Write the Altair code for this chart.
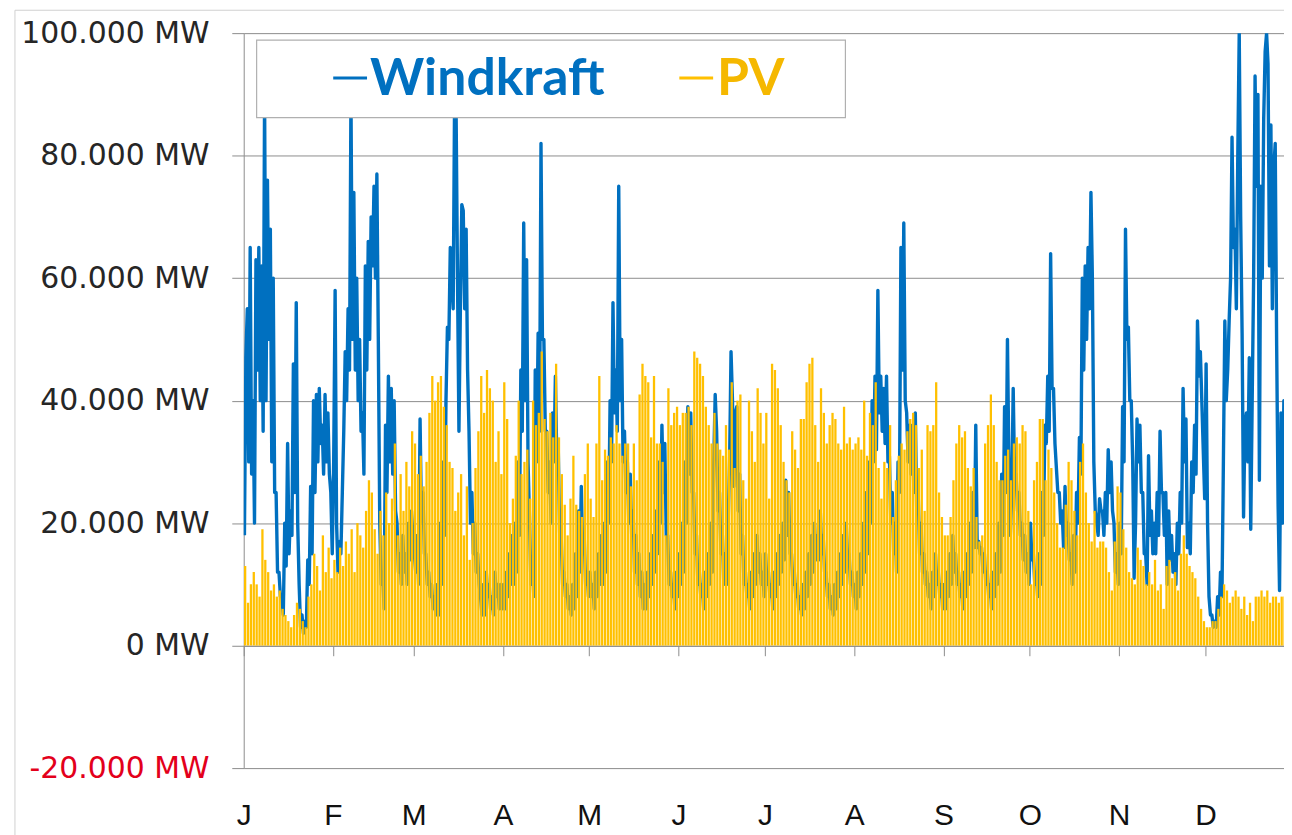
import json
import altair as alt
import pandas as pd

# ---------------- data (thousand MW) ----------------
month_letters = ["J", "F", "M", "A", "M", "J", "J", "A", "S", "O", "N", "D"]
month_start_days = [0, 31, 59, 90, 120, 151, 181, 212, 243, 273, 304, 334]
y_ticks = [-20000, 0, 20000, 40000, 60000, 80000, 100000]

# Windkraft: two readings per day (first half, second half of each day)
wind_jan = [18,47, 55,30, 65,28, 40,20, 63,45, 65,40, 62,35, 90,40, 76,50, 68,30, 60,25, 25,12, 12,8, 8,5, 20,13, 33,15,
            22,18, 46,25, 56,20, 10,3, 5,2, 4,3, 14,10, 26,15, 40,25, 41,30, 42,33, 36,28, 41,30, 38,28, 25,15]
wind_feb = [30,58, 20,12, 17,15, 25,35, 48,40, 55,45, 90,50, 74,45, 60,40, 50,35, 38,28, 62,45, 66,50, 70,62, 75,60,
            77,50, 20,10, 12,6, 36,25, 44,30, 42,28, 40,22, 20,12, 15,10, 18,12, 15,10, 20,14, 22,18]
wind_mar = [15,12, 18,10, 37,20, 25,15, 15,10, 12,8, 10,6, 8,5, 10,5, 20,10, 30,18, 40,52, 50,65, 60,55, 90,88, 60,35,
            55,72, 71,55, 68,45, 35,20, 25,15, 20,12, 15,10, 8,5, 10,5, 12,8, 10,6, 8,5, 12,8, 10,6, 10,6]
wind_apr = [10,6, 12,8, 15,10, 18,10, 20,12, 30,18, 45,35, 69,40, 63,30, 21,10, 14,8, 45,30, 51,35, 82,50, 50,35,
            35,25, 30,20, 38,30, 44,30, 32,18, 18,10, 12,8, 10,6, 8,5, 10,6, 15,8, 22,12, 26,15, 18,10, 12,8]
wind_may = [12,8, 10,6, 12,8, 15,10, 18,10, 20,12, 30,20, 40,30, 56,38, 45,35, 75,40, 50,30, 35,25, 30,20, 28,18,
            22,12, 18,10, 15,8, 12,6, 10,6, 12,8, 15,10, 18,12, 22,15, 30,20, 36,25, 33,18, 18,10, 12,8, 10,6, 12,8]
wind_jun = [15,10, 20,12, 30,20, 39,28, 38,25, 25,15, 18,10, 12,8, 10,6, 12,8, 15,10, 20,12, 30,41, 35,22, 25,15,
            18,10, 15,10, 20,30, 48,40, 26,38, 39,22, 28,15, 18,10, 12,8, 10,6, 12,8, 15,10, 18,12, 15,10, 12,8]
wind_jul = [15,10, 12,8, 10,6, 12,8, 15,10, 18,12, 20,14, 27,18, 25,15, 15,10, 12,8, 10,6, 8,5, 10,6, 12,8,
            15,10, 18,12, 20,14, 18,14, 22,15, 18,12, 12,8, 10,6, 8,5, 10,6, 12,8, 15,10, 18,12, 20,14, 15,10, 12,8]
wind_aug = [10,6, 12,8, 15,10, 20,12, 25,15, 30,20, 40,30, 44,32, 58,38, 44,35, 42,33, 44,30, 31,20, 25,15, 20,12,
            30,25, 65,45, 69,40, 38,30, 36,28, 36,25, 38,22, 25,15, 20,12, 15,10, 12,8, 10,6, 12,8, 15,10, 12,8, 10,6]
wind_sep = [10,6, 12,8, 15,10, 18,12, 15,10, 12,8, 10,6, 12,8, 15,10, 20,12, 25,16, 36,16, 17,15, 16,12, 15,10,
            12,8, 10,6, 12,8, 15,10, 20,12, 28,18, 39,25, 50,30, 18,25, 42,27, 28,22, 25,18, 20,14, 18,12, 15,10]
wind_oct = [20,14, 15,10, 12,8, 15,10, 25,18, 36,33, 44,35, 64,42, 42,33, 29,25, 25,20, 22,16, 26,18, 20,14, 15,10,
            18,12, 25,20, 34,28, 60,45, 62,50, 65,55, 74,60, 30,22, 20,18, 24,22, 22,18, 25,20, 32,25, 30,22, 20,12, 15,10]
wind_nov = [20,15, 39,30, 68,50, 52,40, 40,30, 11,20, 37,30, 36,25, 25,15, 15,10, 31,18, 22,15, 20,15, 25,18, 35,25,
            25,18, 25,10, 22,14, 18,12, 15,10, 20,15, 25,20, 42,30, 37,16, 20,15, 30,25, 36,28, 53,44, 48,40, 32,24]
wind_dec = [46,20, 8,5, 5,3, 4,3, 8,5, 12,8, 30,53, 40,45, 53,60, 83,65, 68,55, 80,100, 70,51, 21,36, 38,30,
            47,19, 40,60, 93,75, 90,27, 75,60, 86,97, 100,95, 62,85, 55,78, 82,49, 23,9, 38,20, 40,35, 45,40, 40,35, 35,30]

# PV: daily peak output
pv_jan = [13, 7, 10, 12, 10, 8, 19, 14, 12, 9, 10, 8, 9, 6, 5, 4, 3, 5, 7, 6, 4, 3, 8, 10, 15, 13, 9, 18, 12, 16, 11]
pv_feb = [14, 12, 16, 13, 17, 15, 19, 12, 20, 18, 16, 22, 27, 25, 19, 15, 22, 18, 25, 20, 24, 33, 18, 28, 22, 30, 26, 35]
pv_mar = [33, 28, 31, 26, 30, 38, 44, 40, 43, 44, 39, 36, 30, 29, 22, 25, 28, 18, 26, 14, 20, 29, 35, 44, 38, 45, 42, 40, 30, 35, 28]
pv_apr = [43, 37, 20, 24, 31, 40, 28, 30, 32, 24, 40, 36, 38, 48, 37, 35, 38, 34, 46, 34, 28, 23, 18, 24, 31, 23, 22, 21, 28, 33]
pv_may = [24, 21, 33, 44, 27, 32, 31, 34, 33, 36, 33, 31, 33, 33, 26, 33, 27, 41, 46, 44, 43, 34, 44, 33, 33, 30, 18, 42, 36, 38, 39]
pv_jun = [36, 38, 38, 39, 36, 48, 47, 46, 44, 39, 36, 33, 38, 33, 32, 31, 36, 32, 43, 29, 40, 41, 27, 24, 40, 35, 30, 42, 38, 33]
pv_jul = [38, 24, 46, 45, 42, 36, 30, 27, 25, 35, 32, 29, 37, 37, 43, 46, 47, 36, 30, 42, 38, 33, 36, 38, 37, 33, 32, 39, 33, 34, 32]
pv_aug = [33, 34, 32, 40, 31, 38, 36, 43, 29, 24, 30, 29, 36, 21, 27, 31, 33, 32, 35, 37, 38, 36, 29, 32, 22, 36, 35, 36, 43, 25, 21]
pv_sep = [18, 18, 21, 27, 33, 36, 34, 35, 29, 26, 29, 21, 17, 18, 33, 36, 41, 36, 30, 27, 27, 31, 32, 27, 33, 34, 33, 36, 35, 22]
pv_oct = [10, 27, 30, 37, 37, 27, 32, 29, 25, 20, 16, 16, 23, 30, 27, 22, 18, 30, 33, 25, 20, 17, 22, 16, 17, 17, 16, 12, 9, 17, 26]
pv_nov = [25, 19, 16, 12, 11, 10, 16, 14, 13, 10, 12, 10, 14, 9, 10, 6, 13, 14, 11, 12, 9, 15, 18, 15, 13, 12, 11, 8, 6, 4]
pv_dec = [3, 3, 4, 4, 6, 8, 10, 9, 7, 8, 9, 8, 6, 8, 5, 7, 4, 8, 8, 9, 8, 9, 7, 8, 8, 7, 8, 8, 7, 6, 6]

# ---------------- tables ----------------
wind_all = (wind_jan + wind_feb + wind_mar + wind_apr + wind_may + wind_jun +
            wind_jul + wind_aug + wind_sep + wind_oct + wind_nov + wind_dec)
pv_all = (pv_jan + pv_feb + pv_mar + pv_apr + pv_may + pv_jun +
          pv_jul + pv_aug + pv_sep + pv_oct + pv_nov + pv_dec)

wind_df = pd.DataFrame({
    "day": [i * 0.5 + 0.25 for i in range(len(wind_all))],
    "mw": [v * 1000 for v in wind_all],
})
pv_df = pd.DataFrame({
    "day": [i + 0.5 for i in range(len(pv_all))],
    "mw": [v * 1000 for v in pv_all],
    "base": [0] * len(pv_all),
})

BLUE = "#0070C0"
GOLD = "#FFC000"
GRID = "#8c8c8c"

x_label_expr = f"{json.dumps(month_letters)}[indexof({json.dumps(month_start_days)}, datum.value)]"
y_label_expr = "(datum.value < 0 ? '-' : '') + replace(format(abs(datum.value), ','), ',', '.') + ' MW'"

x_scale = alt.Scale(domain=[0, 361.3], nice=False, zero=False)
y_scale = alt.Scale(domain=[-20000, 100000], nice=False)

x_axis = alt.Axis(
    values=month_start_days, labelExpr=x_label_expr, title=None, grid=False,
    offset=-123, tickSize=10, tickColor=GRID, domainColor=GRID,
    labelPadding=146, labelFont="Liberation Sans",
    labelFontSize=30, labelColor="#111111", labelAngle=0, labelAlign="center",
    labelBaseline="top", labelFlush=False, labelOverlap=False,
)
y_axis = alt.Axis(
    values=y_ticks, labelExpr=y_label_expr, title=None, grid=True, gridColor=GRID,
    gridWidth=1, tickSize=12, tickColor=GRID, domainColor=GRID, labelPadding=23,
    labelFont="DejaVu Sans", labelFontSize=30, labelLimit=400,
    labelColor={"condition": {"test": "datum.value < 0", "value": "#e3001b"}, "value": "#262626"},
)

wind = alt.Chart(wind_df).mark_line(
    color=BLUE, strokeWidth=3.4, strokeJoin="round", clip=True
).encode(
    x=alt.X("day:Q", scale=x_scale, axis=x_axis),
    y=alt.Y("mw:Q", scale=y_scale, axis=y_axis),
)

pv = alt.Chart(pv_df).mark_rule(color=GOLD, strokeWidth=2.3, clip=True).encode(
    x=alt.X("day:Q", scale=x_scale),
    y=alt.Y("mw:Q", scale=y_scale),
    y2="base:Q",
)

# ---------------- legend & frame ----------------
one = pd.DataFrame({"k": [0]})
frame = alt.Chart(one).mark_rect(fillOpacity=0, stroke="#d0d0d0", strokeWidth=1).encode(
    x=alt.value(-230), x2=alt.value(1100), y=alt.value(-23), y2=alt.value(900)
)
legend_box = alt.Chart(one).mark_rect(fill="white", stroke="#b0b0b0", strokeWidth=1.2).encode(
    x=alt.value(13), x2=alt.value(605), y=alt.value(7), y2=alt.value(85)
)
dash_w = alt.Chart(one).mark_rule(color=BLUE, strokeWidth=3).encode(
    x=alt.value(90), x2=alt.value(124), y=alt.value(45)
)
dash_p = alt.Chart(one).mark_rule(color=GOLD, strokeWidth=3).encode(
    x=alt.value(438), x2=alt.value(472), y=alt.value(45)
)
text_w = alt.Chart(pd.DataFrame({"t": ["Windkraft"]})).mark_text(
    align="left", baseline="alphabetic", font="Lato", fontSize=52, fontWeight="bold", color=BLUE
).encode(x=alt.value(127), y=alt.value(62), text="t:N")
text_p = alt.Chart(pd.DataFrame({"t": ["PV"]})).mark_text(
    align="left", baseline="alphabetic", font="Lato", fontSize=52, fontWeight="bold", color="#F5B800"
).encode(x=alt.value(476), y=alt.value(62), text="t:N")

chart = alt.layer(frame, wind, pv, legend_box, dash_w, text_w, dash_p, text_p).properties(
    width=1046, height=739,
    autosize=alt.AutoSizeParams(type="none"),
    padding={"left": 237, "top": 23, "right": 0, "bottom": 66},
).configure_view(stroke=None)

chart.save("out.html", embed_options={"renderer": "svg", "actions": False})
